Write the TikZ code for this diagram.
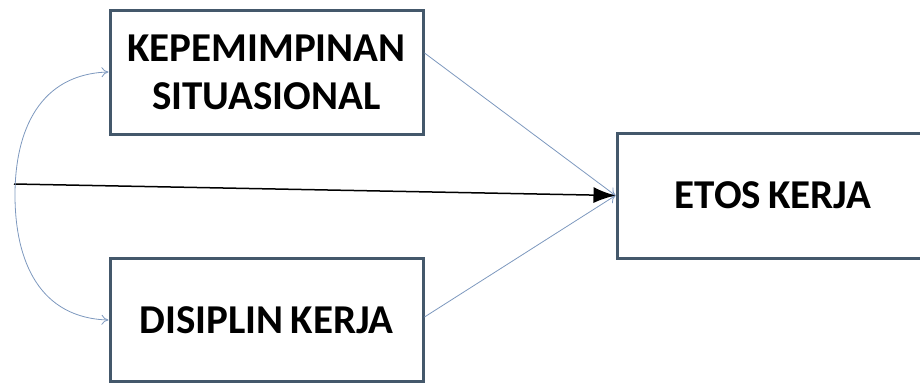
\documentclass[tikz,border=0pt]{standalone}
\usepackage{fontspec}
\setmainfont{Carlito}
\usetikzlibrary{arrows.meta}
\definecolor{boxline}{RGB}{68,88,107}
\definecolor{conn}{RGB}{125,152,190}
\newcommand{\myboxfont}{\fontsize{41}{48}\selectfont\bfseries\spaceskip=7pt plus 0pt minus 0pt\relax}
\tikzset{
  varbox/.style={draw=boxline, line width=3pt, fill=white, inner sep=0pt, align=center,
    font=\myboxfont},
  bluearrow/.style={draw=conn, line width=0.8pt, -{To[length=7pt,width=10pt]}},
  blackarrow/.style={draw=black, line width=1.5pt, -{Latex[length=22pt,width=16pt]}}
}
\begin{document}
\begin{tikzpicture}[x=1pt,y=-1pt]
\useasboundingbox (0,0) rectangle (920,383);
\node[varbox, minimum width=313pt, minimum height=124pt] (k) at (266.5,72) {KEPEMIMPINAN\\SITUASIONAL};
\node[varbox, minimum width=313pt, minimum height=123pt] (d) at (266.5,320) {DISIPLIN KERJA};
\node[varbox, minimum width=312pt, minimum height=125pt] (e) at (773,195.5) {ETOS KERJA};
\coordinate (s) at (14,184);
\draw[bluearrow] ([yshift=19pt]k.east) -- (e.west);
\draw[bluearrow] ([yshift=3pt]d.east) -- (e.west);
\draw[blackarrow] (s) -- (e.west);
\draw[draw=conn, line width=0.8pt, {To[length=7pt,width=10pt]}-{To[length=7pt,width=10pt]}]
  (k.west) .. controls (40,74) and (15,130) .. (15,195)
  .. controls (15,262) and (40,318) .. (d.west);
\end{tikzpicture}
\end{document}
